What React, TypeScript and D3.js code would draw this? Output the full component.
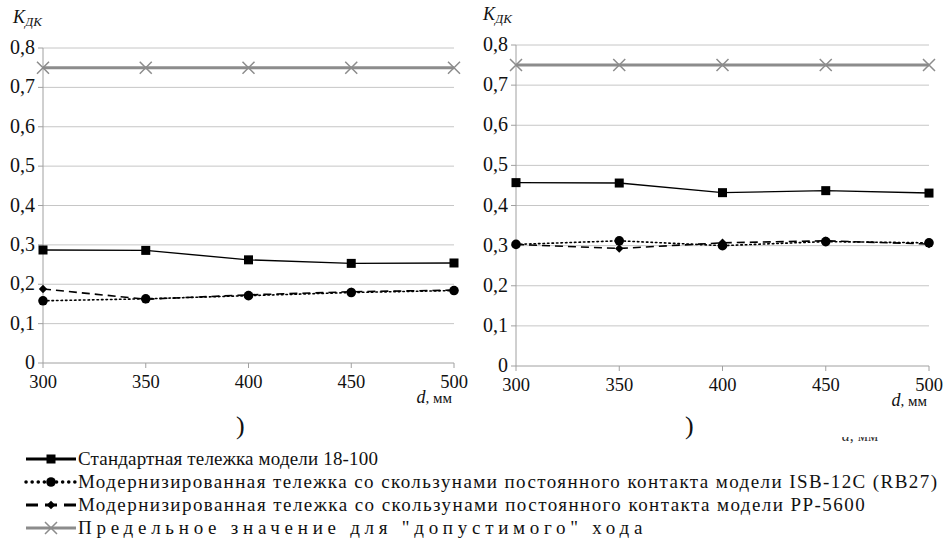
import React, { useLayoutEffect, useRef } from 'react';
import * as d3 from 'd3';

// x values (d, мм) and y ticks
const distances = [300, 350, 400, 450, 500];
const yTicks = [0, 0.1, 0.2, 0.3, 0.4, 0.5, 0.6, 0.7, 0.8];

// left panel
const leftStandard = [0.287, 0.286, 0.262, 0.253, 0.254];
const leftIsb = [0.158, 0.163, 0.171, 0.179, 0.184];
const leftPp = [0.188, 0.162, 0.173, 0.181, 0.185];
const leftLimit = [0.75, 0.75, 0.75, 0.75, 0.75];

// right panel
const rightStandard = [0.457, 0.456, 0.432, 0.437, 0.431];
const rightIsb = [0.303, 0.312, 0.300, 0.310, 0.307];
const rightPp = [0.303, 0.293, 0.307, 0.312, 0.304];
const rightLimit = [0.75, 0.75, 0.75, 0.75, 0.75];

const legendLabels = [
    'Стандартная тележка модели 18-100',
    'Модернизированная тележка со скользунами постоянного контакта модели ISB-12C (RB27)',
    'Модернизированная тележка со скользунами постоянного контакта модели PP-5600',
    'Предельное значение для "допустимого" хода',
];

const FONT = 'Liberation Serif';
const AXIS = '#a0a0a0';
const GRID = '#c6c6c6';
const LIMIT = '#8c8c8c';

const seriesStyles = [
    { marker: 'square', color: '#000', width: 1.4, dash: undefined as string | undefined },
    { marker: 'circle', color: '#000', width: 1.6, dash: '1.5,3' },
    { marker: 'diamond', color: '#000', width: 1.6, dash: '8,5' },
    { marker: 'cross', color: LIMIT, width: 3, dash: undefined as string | undefined },
];

const diamondPath = d3.symbol(d3.symbolDiamond2, 45)() as string;

const Marker: React.FC<{ kind: string; cx: number; cy: number }> = ({ kind, cx, cy }) => {
    if (kind === 'square') return <rect x={cx - 4.5} y={cy - 4.5} width={9} height={9} fill="#000" />;
    if (kind === 'circle') return <circle cx={cx} cy={cy} r={4.8} fill="#000" />;
    if (kind === 'diamond') return <path d={diamondPath} transform={`translate(${cx},${cy})`} fill="#000" />;
    const s = 6;
    return (
        <path d={`M${cx - s},${cy - s}L${cx + s},${cy + s}M${cx - s},${cy + s}L${cx + s},${cy - s}`}
            stroke={LIMIT} strokeWidth={1.5} fill="none" />
    );
};

const Panel: React.FC<{
    x0: number; x1: number; yTop: number; yBottom: number; series: number[][]; titleX: number; titleY: number;
}> = ({ x0, x1, yTop, yBottom, series, titleX, titleY }) => {
    const x = d3.scalePoint<number>().domain(distances).range([x0, x1]);
    const y = d3.scaleLinear().domain([0, 0.8]).range([yBottom, yTop]);
    const line = d3.line<number>().x((_, j) => x(distances[j])!).y(v => y(v));
    const order = [3, 0, 1, 2]; // limit line underneath

    return (
        <g>
            {yTicks.filter(t => t > 0).map(t => (
                <line key={'g' + t} x1={x0} x2={x1} y1={y(t)} y2={y(t)} stroke={GRID} />
            ))}
            <line x1={x0} x2={x0} y1={y(0.8)} y2={y(0)} stroke={AXIS} />
            <line x1={x0} x2={x1} y1={y(0)} y2={y(0)} stroke={AXIS} />
            {yTicks.map(t => (
                <g key={'y' + t}>
                    <line x1={x0 - 5} x2={x0} y1={y(t)} y2={y(t)} stroke={AXIS} />
                    <text x={x0 - 8} y={y(t) + 6} textAnchor="end" fontFamily={FONT} fontSize={20} fill="#111">
                        {t === 0 ? '0' : d3.format('.1f')(t).replace('.', ',')}
                    </text>
                </g>
            ))}
            {distances.map(d => (
                <g key={'x' + d}>
                    <line x1={x(d)} x2={x(d)} y1={y(0)} y2={y(0) + 5} stroke={AXIS} />
                    <text x={x(d)} y={y(0) + 25} textAnchor="middle" fontFamily={FONT} fontSize={18.5} fill="#111">{d}</text>
                </g>
            ))}
            <text x={x1 - 2} y={y(0) + 40} textAnchor="end" fontFamily={FONT} fontSize={15} fill="#111">
                <tspan fontStyle="italic" fontSize={18}>d</tspan>
                <tspan>, мм</tspan>
            </text>
            <text x={titleX} y={titleY} fontFamily={FONT} fontStyle="italic" fill="#111">
                <tspan fontSize={18}>K</tspan>
                <tspan fontSize={13} dy={3}>ДК</tspan>
            </text>
            {order.map(i => {
                const st = seriesStyles[i];
                return (
                    <g key={'s' + i}>
                        <path d={line(series[i]) as string} fill="none" stroke={st.color} strokeWidth={st.width}
                            strokeDasharray={st.dash} strokeLinecap={i === 1 ? 'round' : 'butt'} />
                        {series[i].map((v, j) => (
                            <Marker key={j} kind={st.marker} cx={x(distances[j])!} cy={y(v)} />
                        ))}
                    </g>
                );
            })}
        </g>
    );
};

const legendY = [459, 482, 505, 528];
const legendLen = [300, 860, 788, 569];

const App: React.FC = () => {
    const legendRefs = useRef<(SVGTextElement | null)[]>([]);

    // widen legend rows to the reference width with letter spacing
    useLayoutEffect(() => {
        legendRefs.current.forEach((el, i) => {
            if (!el) return;
            const w = el.getComputedTextLength();
            const n = legendLabels[i].length;
            const sp = Math.max(0, (legendLen[i] - w) / n);
            el.setAttribute('letter-spacing', sp.toFixed(2));
        });
    }, []);

    return (
        <svg width={943} height={544} style={{ position: 'absolute', left: 0, top: 0, display: 'block' }}>
            <rect width={943} height={544} fill="#fff" />
            <defs>
                <clipPath id="cutoff">
                    <rect x={820} y={437} width={70} height={8} />
                </clipPath>
            </defs>
            <Panel x0={43} x1={454} yTop={48} yBottom={363}
                series={[leftStandard, leftIsb, leftPp, leftLimit]} titleX={13} titleY={23} />
            <Panel x0={516} x1={929} yTop={45} yBottom={366}
                series={[rightStandard, rightIsb, rightPp, rightLimit]} titleX={483} titleY={20} />

            {[236, 685].map(px => (
                <text key={px} x={px} y={434} fontFamily={FONT} fontSize={26} fill="#111">)</text>
            ))}

            <text x={878} y={441} textAnchor="end" clipPath="url(#cutoff)" fontFamily={FONT} fontSize={16} fill="#333">
                <tspan fontStyle="italic">d</tspan>
                <tspan>, мм</tspan>
            </text>

            {legendLabels.map((label, i) => {
                const st = seriesStyles[i];
                const ly = legendY[i];
                return (
                    <g key={label}>
                        <line x1={26} x2={76} y1={ly} y2={ly} stroke={st.color}
                            strokeWidth={i === 1 ? 3.5 : 3}
                            strokeLinecap={i === 1 ? 'round' : 'butt'}
                            strokeDasharray={i === 1 ? '0.1,6' : i === 2 ? '12,7' : undefined} />
                        <Marker kind={st.marker} cx={51} cy={ly} />
                        <text ref={el => { legendRefs.current[i] = el; }} x={78} y={ly + 6}
                            fontFamily={FONT} fontSize={19} fill="#111">{label}</text>
                    </g>
                );
            })}
        </svg>
    );
};

export default App;
